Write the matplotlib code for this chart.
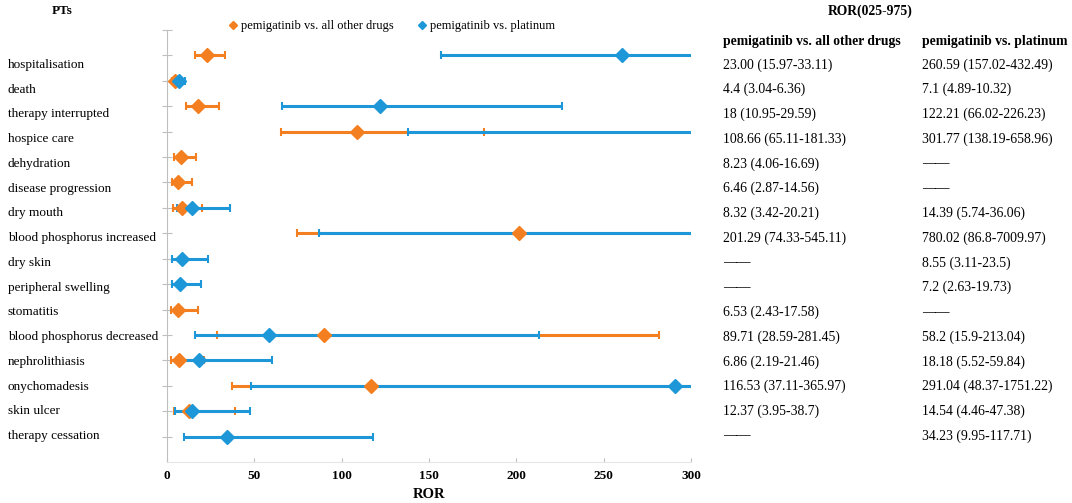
import numpy as np
import matplotlib.pyplot as plt

# Preferred terms (top to bottom)
pts = ["hospitalisation", "death", "therapy interrupted", "hospice care",
       "dehydration", "disease progression", "dry mouth",
       "blood phosphorus increased", "dry skin", "peripheral swelling",
       "stomatitis", "blood phosphorus decreased", "nephrolithiasis",
       "onychomadesis", "skin ulcer", "therapy cessation"]

nan = np.nan
# pemigatinib vs. all other drugs
ror_all = [23.00, 4.4, 18, 108.66, 8.23, 6.46, 8.32, 201.29, nan, nan,
           6.53, 89.71, 6.86, 116.53, 12.37, nan]
lo_all = [15.97, 3.04, 10.95, 65.11, 4.06, 2.87, 3.42, 74.33, nan, nan,
          2.43, 28.59, 2.19, 37.11, 3.95, nan]
hi_all = [33.11, 6.36, 29.59, 181.33, 16.69, 14.56, 20.21, 545.11, nan, nan,
          17.58, 281.45, 21.46, 365.97, 38.7, nan]

# pemigatinib vs. platinum
ror_plat = [260.59, 7.1, 122.21, 301.77, nan, nan, 14.39, 780.02, 8.55, 7.2,
            nan, 58.2, 18.18, 291.04, 14.54, 34.23]
lo_plat = [157.02, 4.89, 66.02, 138.19, nan, nan, 5.74, 86.8, 3.11, 2.63,
           nan, 15.9, 5.52, 48.37, 4.46, 9.95]
hi_plat = [432.49, 10.32, 226.23, 658.96, nan, nan, 36.06, 7009.97, 23.5, 19.73,
           nan, 213.04, 59.84, 1751.22, 47.38, 117.71]

txt_all = ["23.00 (15.97-33.11)", "4.4 (3.04-6.36)", "18 (10.95-29.59)",
           "108.66 (65.11-181.33)", "8.23 (4.06-16.69)", "6.46 (2.87-14.56)",
           "8.32 (3.42-20.21)", "201.29 (74.33-545.11)", "——", "——",
           "6.53 (2.43-17.58)", "89.71 (28.59-281.45)", "6.86 (2.19-21.46)",
           "116.53 (37.11-365.97)", "12.37 (3.95-38.7)", "——"]
txt_plat = ["260.59 (157.02-432.49)", "7.1 (4.89-10.32)", "122.21 (66.02-226.23)",
            "301.77 (138.19-658.96)", "——", "——", "14.39 (5.74-36.06)",
            "780.02 (86.8-7009.97)", "8.55 (3.11-23.5)", "7.2 (2.63-19.73)",
            "——", "58.2 (15.9-213.04)", "18.18 (5.52-59.84)",
            "291.04 (48.37-1751.22)", "14.54 (4.46-47.38)", "34.23 (9.95-117.71)"]

orange = "#F47F20"
blue = "#1E97D8"
grey = "#BFBFBF"
xmax = 300

plt.rcParams["font.family"] = "Liberation Serif"

fig = plt.figure(figsize=(10.72, 5.03), dpi=100)
ax = fig.add_axes([167 / 1072, 1 - 462 / 503, (691 - 167) / 1072, (462 - 30) / 503])

n = len(pts)
y = np.arange(n, 0, -1)

def draw(vals, lo, hi, color, label, z):
    vals = np.array(vals, float)
    lo = np.array(lo, float)
    hi = np.array(hi, float)
    err = np.vstack([vals - lo, hi - vals])
    ax.errorbar(vals, y, xerr=err, fmt="none", ecolor=color, elinewidth=2.2,
                capsize=3, capthick=1.5, zorder=z)
    # markers past the axis end are not shown
    shown = np.where(vals <= xmax, vals, nan)
    ax.plot(shown, y, "D", color=color, markersize=7, zorder=z + 2)
    ax.plot([], [], "D", color=color, markersize=4, label=label)

draw(ror_all, lo_all, hi_all, orange, "pemigatinib vs. all other drugs", 2)
draw(ror_plat, lo_plat, hi_plat, blue, "pemigatinib vs. platinum", 3)

ax.set_xlim(0, xmax)
ax.set_ylim(0, n + 1)
ax.set_xticks([0, 50, 100, 150, 200, 250, 300])
ax.set_yticks(np.arange(1, n + 2))
ax.set_yticklabels([])
for lab in ax.get_xticklabels():
    lab.set_fontweight("bold")
ax.tick_params(axis="x", direction="in", length=3, color=grey, labelsize=9.5, pad=6)
ax.tick_params(axis="y", direction="inout", length=7, color=grey)
for s in ["top", "right"]:
    ax.spines[s].set_visible(False)
ax.spines["left"].set_color(grey)
ax.spines["bottom"].set_color("#E6E6E6")
ax.set_xlabel("ROR", fontweight="bold", fontsize=10.5, labelpad=4)

fig.legend(loc="center", bbox_to_anchor=(392 / 1072, 1 - 26 / 503), ncol=2,
           frameon=False, fontsize=9, handlelength=0.6, handletextpad=0.3,
           columnspacing=2.0)

# left labels and table on the right
fig.text(62 / 1072, 1 - 11 / 503, "PTs", ha="center", va="center",
         fontweight="bold", fontsize=9.5)
fig.text(870 / 1072, 1 - 11 / 503, "ROR(025-975)", ha="center", va="center",
         fontweight="bold", fontsize=9.8)
fig.text(723 / 1072, 1 - 42 / 503, "pemigatinib vs. all other drugs", ha="left",
         va="center", fontweight="bold", fontsize=9.8)
fig.text(922 / 1072, 1 - 42 / 503, "pemigatinib vs. platinum", ha="left",
         va="center", fontweight="bold", fontsize=9.8)

step = (436 - 65) / (n - 1)
for i in range(n):
    yy = 1 - (65 + i * step) / 503
    fig.text(8 / 1072, yy, pts[i], ha="left", va="center", fontsize=9.5)
    fig.text(723 / 1072, yy, txt_all[i], ha="left", va="center", fontsize=9.9)
    fig.text(922 / 1072, yy, txt_plat[i], ha="left", va="center", fontsize=9.9)

fig.savefig("out.png", dpi=100)
